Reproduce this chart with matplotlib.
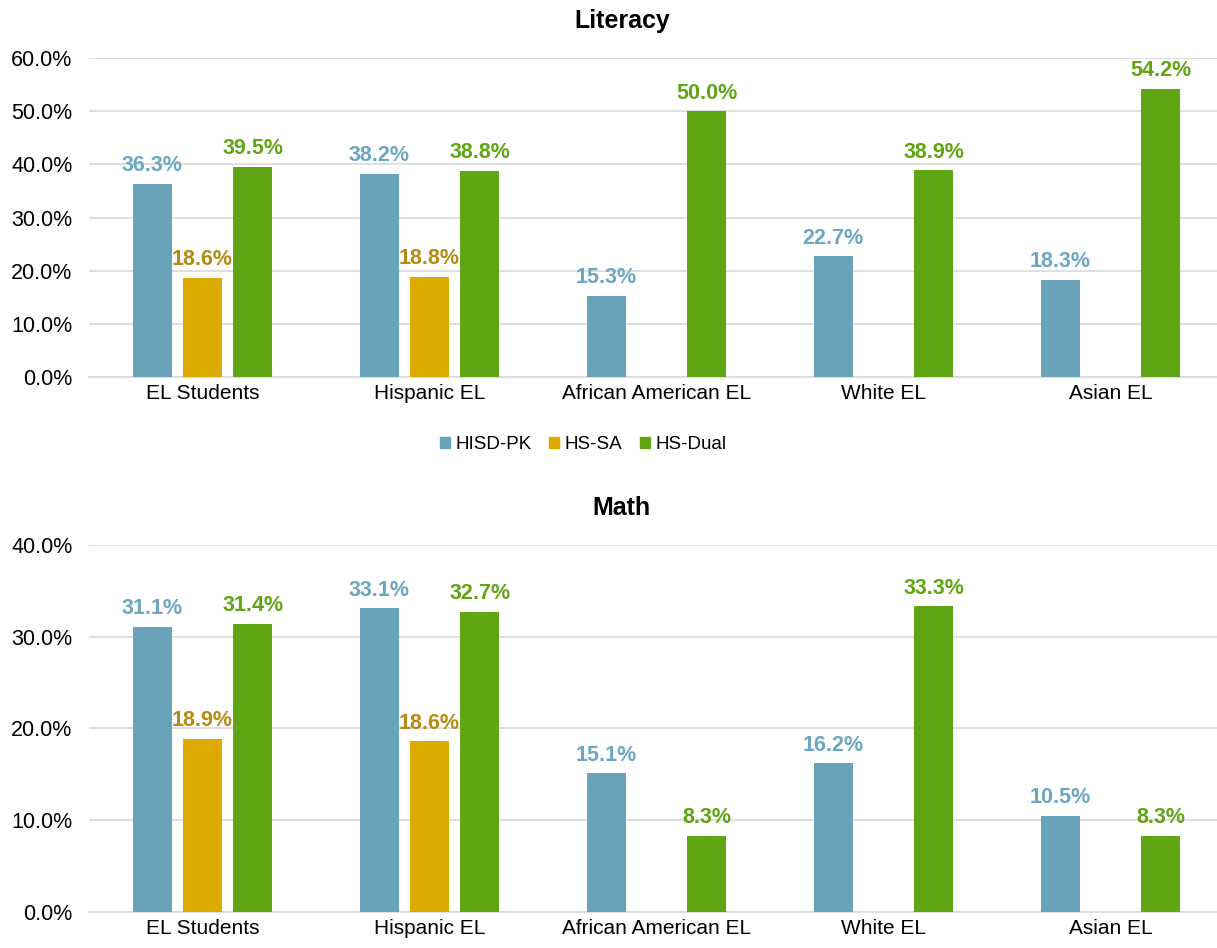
import numpy as np
import matplotlib.pyplot as plt
from matplotlib.patches import Patch

plt.rcParams['font.family'] = ['Liberation Sans', 'DejaVu Sans']

categories = ["EL Students", "Hispanic EL", "African American EL", "White EL", "Asian EL"]
series = ["HISD-PK", "HS-SA", "HS-Dual"]

# None = no bar for that group
literacy = {
    "HISD-PK": [36.3, 38.2, 15.3, 22.7, 18.3],
    "HS-SA":   [18.6, 18.8, None, None, None],
    "HS-Dual": [39.5, 38.8, 50.0, 38.9, 54.2],
}
math = {
    "HISD-PK": [31.1, 33.1, 15.1, 16.2, 10.5],
    "HS-SA":   [18.9, 18.6, None, None, None],
    "HS-Dual": [31.4, 32.7, 8.3, 33.3, 8.3],
}

bar_colors = {"HISD-PK": "#68A3BA", "HS-SA": "#DDAA00", "HS-Dual": "#60A513"}
label_colors = {"HISD-PK": "#6CA6C0", "HS-SA": "#B58B12", "HS-Dual": "#60A513"}
offsets = {"HISD-PK": -0.222, "HS-SA": 0.0, "HS-Dual": 0.222}
bar_w = 0.172


def draw_panel(ax, data, ymax, step, title, title_y):
    x = np.arange(len(categories))
    for s in series:
        for i, v in enumerate(data[s]):
            if v is None:
                continue
            ax.bar(x[i] + offsets[s], v, width=bar_w, color=bar_colors[s], zorder=3)
            ax.annotate(f"{v:.1f}%", (x[i] + offsets[s], v), xytext=(0, 5.5), textcoords='offset points',
                        ha='center', va='bottom', fontsize=15.5, fontweight='bold', color=label_colors[s])
    ticks = np.arange(0, ymax + 0.01, step)
    ax.set_xlim(-0.5, len(categories) - 0.5)
    ax.set_ylim(0, ymax)
    ax.set_yticks(ticks)
    ax.set_yticklabels([f"{t:.1f}%" for t in ticks], fontsize=15.5)
    ax.set_xticks(x)
    ax.set_xticklabels(categories, fontsize=15)
    ax.tick_params(axis='x', length=0, pad=5)
    ax.tick_params(axis='y', length=0, pad=12)
    ax.grid(axis='y', color='#D9D9D9', linewidth=1.2, zorder=0)
    for side in ['top', 'right', 'left']:
        ax.spines[side].set_visible(False)
    ax.spines['bottom'].set_color('#D9D9D9')
    ax.spines['bottom'].set_linewidth(1.2)
    fig.text(0.511, title_y, title, ha='center', va='center', fontsize=18, fontweight='bold')


fig = plt.figure(figsize=(12.17, 9.48), dpi=100)
ax1 = fig.add_axes([0.0731, 0.6023, 0.9326, 0.3365])
ax2 = fig.add_axes([0.0731, 0.0380, 0.9326, 0.3871])

draw_panel(ax1, literacy, 60, 10, "Literacy", 0.978)
draw_panel(ax2, math, 40, 10, "Math", 0.464)

handles = [Patch(color=bar_colors[s], label=s) for s in series]
fig.legend(handles=handles, loc='center', bbox_to_anchor=(0.479, 0.531), ncol=3, frameon=False,
           fontsize=13.5, handlelength=0.55, handleheight=0.55, handletextpad=0.27, columnspacing=0.95)

fig.savefig("out.png", dpi=100)
